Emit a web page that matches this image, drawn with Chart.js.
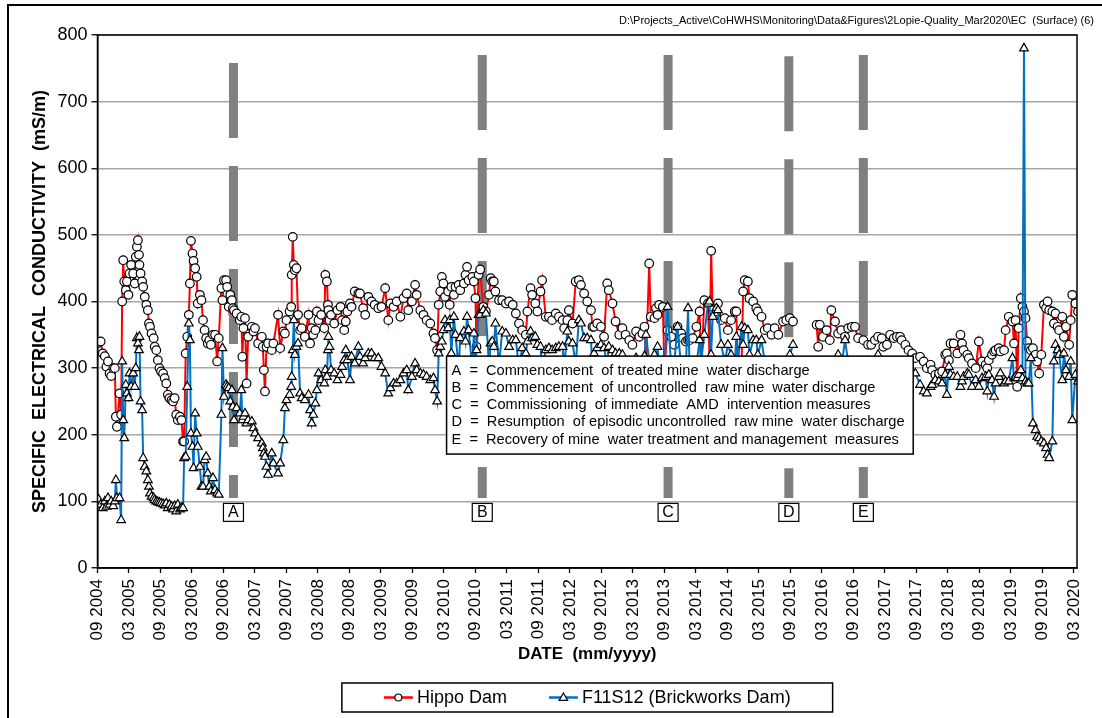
<!DOCTYPE html>
<html>
<head>
<meta charset="utf-8">
<title>EC (Surface)</title>
<script src="https://cdn.jsdelivr.net/npm/chart.js@4.4.1/dist/chart.umd.min.js"></script>
<style>
  html, body { margin: 0; padding: 0; background: #fff; }
  #wrap { position: relative; width: 1102px; height: 718px; }
</style>
</head>
<body>
<div id="wrap"><canvas id="ec" width="1102" height="718"></canvas></div>
<script>
// months since Sep 2004 for every sample
const sampleMonth = [
  0.2, 0.6, 1.0, 1.4, 1.7, 2.0, 2.3, 2.6, 3.0, 3.3,
  3.5, 3.7, 4.2, 4.5, 4.7, 4.9, 5.1, 5.4, 5.6, 5.9,
  6.1, 6.4, 6.8, 7.1, 7.3, 7.5, 7.7, 7.9, 8.0, 8.2,
  8.5, 8.7, 9.0, 9.3, 9.6, 9.8, 10.0, 10.3, 10.7, 10.9,
  11.2, 11.5, 11.8, 12.1, 12.5, 12.8, 13.1, 13.4, 13.7, 14.1,
  14.4, 14.7, 15.0, 15.3, 15.7, 16.0, 16.3, 16.5, 16.8, 17.1,
  17.4, 17.6, 17.8, 18.1, 18.3, 18.6, 18.9, 19.1, 19.5, 19.8,
  20.1, 20.4, 20.7, 21.0, 21.3, 21.6, 22.0, 22.4, 22.8, 23.1,
  23.6, 23.8, 24.1, 24.5, 24.7, 25.0, 25.3, 25.6, 25.8, 26.0,
  26.5, 27.1, 27.4, 27.6, 27.8, 28.1, 28.4, 28.7, 29.4, 29.7,
  30.0, 30.6, 31.3, 31.5, 31.7, 31.9, 32.2, 32.5, 33.2, 33.5,
  34.4, 34.8, 35.4, 35.7, 36.0, 36.6, 36.9, 37.0, 37.2, 37.4,
  37.6, 37.9, 38.2, 38.6, 38.9, 39.5, 40.2, 40.5, 40.8, 41.1,
  41.5, 41.8, 42.1, 42.6, 43.2, 43.4, 43.7, 43.9, 44.0, 44.2,
  44.5, 45.1, 45.7, 46.3, 46.6, 47.0, 47.3, 47.6, 48.1, 48.4,
  49.0, 49.7, 50.0, 50.6, 51.0, 51.6, 52.2, 52.8, 53.5, 54.1,
  54.8, 55.4, 55.8, 56.4, 57.0, 57.7, 58.3, 58.9, 59.2, 59.9,
  60.5, 60.8, 61.5, 62.1, 62.7, 63.4, 64.0, 64.3, 64.7, 65.0,
  65.3, 65.6, 65.9, 66.2, 66.8, 67.1, 67.4, 67.9, 68.2, 68.8,
  69.1, 69.8, 70.1, 70.4, 70.7, 71.4, 71.7, 72.0, 72.2, 72.6,
  72.9, 73.5, 74.0, 74.6, 74.9, 75.2, 75.5, 75.8, 76.5, 77.1,
  77.8, 78.4, 79.1, 79.7, 80.3, 80.9, 81.6, 81.9, 82.5, 82.8,
  83.4, 83.8, 84.4, 84.7, 85.4, 86.0, 86.6, 87.3, 87.9, 88.6,
  88.9, 89.5, 89.8, 90.5, 91.1, 91.7, 92.1, 92.7, 93.3, 94.0,
  94.3, 94.6, 95.2, 95.9, 96.5, 97.1, 97.4, 98.1, 98.7, 99.4,
  100.0, 100.6, 101.3, 101.9, 102.6, 103.2, 103.8, 104.2, 104.5, 105.1,
  105.4, 106.1, 106.4, 106.7, 107.0, 107.7, 108.0, 108.6, 109.3, 109.9,
  110.5, 111.2, 111.5, 112.1, 112.5, 112.8, 113.4, 114.1, 114.7, 115.0,
  115.6, 116.3, 116.6, 116.9, 117.2, 117.9, 118.2, 118.8, 119.5, 120.1,
  120.7, 121.4, 121.7, 122.0, 122.7, 123.0, 123.3, 123.9, 124.2, 124.9,
  125.5, 125.8, 126.5, 127.1, 127.7, 128.4, 129.0, 129.7, 130.6, 131.2,
  131.9, 132.5, 134.5, 137.0, 137.3, 137.6, 138.2, 138.9, 139.5, 139.8,
  140.5, 141.1, 141.7, 142.4, 143.0, 143.7, 144.3, 144.9, 145.9, 146.8,
  147.4, 148.1, 148.7, 149.4, 149.7, 150.4, 151.0, 151.7, 152.3, 152.9,
  153.2, 153.9, 154.5, 155.2, 155.8, 156.7, 157.4, 158.0, 158.7, 159.0,
  159.6, 160.3, 160.9, 161.5, 161.8, 162.2, 162.5, 163.1, 163.8, 164.4,
  164.7, 165.0, 165.7, 166.0, 166.6, 167.3, 167.9, 168.5, 169.2, 169.5,
  169.8, 170.4, 170.8, 171.1, 171.7, 172.0, 172.7, 173.0, 173.6, 174.3,
  174.6, 174.9, 175.2, 175.5, 175.9, 176.2, 176.5, 176.8, 177.1, 177.4,
  177.8, 178.2, 178.7, 179.0, 179.4, 179.8, 180.3, 180.7, 181.0, 181.3,
  181.9, 182.2, 182.5, 182.9, 183.2, 183.8, 184.1, 184.5, 185.1, 185.4,
  185.7, 186.3, 186.8
];

// Hippo Dam EC (mS/m)
const hippoEC = [
  338, 340, 322, 318, 302, 310, 292, 288, 300, 300,
  227, 212, 262, 230, 400, 462, 430, 417, 430, 410,
  442, 455, 442, 427, 467, 482, 492, 470, 455, 442,
  430, 422, 407, 395, 387, 367, 362, 352, 345, 332,
  327, 312, 300, 295, 292, 285, 277, 260, 255, 252,
  250, 255, 230, 222, 227, 222, 190, 190, 322, 347,
  380, 427, 491, 472, 461, 450, 437, 397, 410, 402,
  372, 357, 345, 337, 342, 335, 350, 350, 310, 345,
  420, 402, 432, 432, 422, 392, 410, 402, 390, 387,
  382, 372, 377, 317, 360, 375, 277, 347, 362, 355,
  360, 337, 347, 332, 297, 265, 332, 337, 327, 337,
  380, 330, 355, 352, 372, 385, 392, 440, 497, 455,
  447, 450, 380, 357, 360, 347, 380, 337, 360, 350,
  357, 385, 372, 380, 360, 440, 430, 395, 387, 372,
  380, 367, 387, 392, 372, 357, 370, 385, 397, 392,
  415, 412, 412, 390, 380, 407, 400, 395, 390, 392,
  420, 372, 397, 392, 400, 377, 405, 412, 387, 400,
  425, 410, 387, 380, 372, 367, 352, 345, 327, 395,
  415, 437, 427, 407, 415, 395, 422, 410, 422, 425,
  417, 427, 440, 452, 432, 437, 430, 405, 332, 440,
  448, 392, 385, 410, 435, 430, 430, 415, 402, 402,
  397, 400, 395, 382, 367, 357, 350, 385, 420, 410,
  397, 385, 415, 432, 377, 377, 372, 382, 377, 372,
  360, 372, 387, 367, 430, 432, 425, 412, 400, 387,
  362, 362, 367, 362, 347, 427, 417, 397, 370, 350,
  360, 350, 342, 335, 355, 347, 352, 362, 310, 457,
  377, 375, 390, 380, 395, 392, 300, 357, 347, 335,
  362, 352, 345, 340, 342, 342, 345, 362, 385, 300,
  402, 397, 310, 476, 387, 385, 397, 372, 375, 357,
  372, 385, 385, 300, 305, 415, 432, 430, 405, 400,
  390, 385, 377, 357, 360, 350, 360, 350, 370, 372,
  375, 370, null, 365, 332, 365, 347, 357, 342, 387,
  370, 352, 357, 347, 360, 362, 362, 345, 342, 335,
  335, 342, 347, 345, 332, 335, 350, 345, 347, 347,
  342, 335, 327, 322, 315, 317, 310, 300, 305, 297,
  290, 292, 295, 320, 322, 312, 337, 337, 322, 350,
  337, 327, 320, 315, 307, 300, 340, 310, 305, 300,
  312, 320, 325, 327, 330, 325, 327, 357, 377, 370,
  337, 372, 272, 360, 405, 392, 385, 375, 340, 330,
  327, 330, 320, 310, 292, 320, 395, 390, 400, 387,
  385, 367, 382, 362, 357, 377, 347, 362, 335, 372,
  410, 397, 385
];

// F11S12 (Brickworks Dam) EC (mS/m)
const brickEC = [
  103, 95, 90, 100, 92, 105, 95, 100, 93, 100,
  132, 105, 105, 72, 310, 222, 195, 275, 262, 255,
  292, 272, 292, 272, 300, 345, 337, 327, 347, 250,
  237, 165, 152, 145, 132, 122, 112, 107, 105, 102,
  100, 99, 98, 97, 96, 94, 97, 90, 95, 92,
  88, 93, 85, 95, 88, 90, 90, 165, 167, 272,
  367, 342, 202, 182, 150, 232, 202, 182, 152, 122,
  122, 162, 167, 142, 122, 115, 135, 117, 112, 110,
  230, 330, 257, 275, 272, 270, 250, 267, 242, 222,
  240, 232, 267, 222, 227, 232, 217, 222, 220, 210,
  202, 195, 187, 180, 172, 167, 152, 140, 172, 157,
  142, 157, 192, 240, 252, 260, 272, 287, 327, 372,
  320, 332, 337, 262, 255, 252, 260, 237, 217, 230,
  247, 267, 292, 282, 277, 297, 287, 327, 347, 332,
  297, 292, 282, 290, 302, 312, 327, 312, 282, 317,
  307, 332, 317, 307, 315, 322, 322, 315, 315, 302,
  292, 262, 270, 277, 277, 282, 292, 297, 267, 287,
  307, 297, 292, 290, 287, 282, 285, 267, 250, 322,
  332, 340, 357, 372, 360, 372, 322, 377, 350, 300,
  345, 355, 340, 377, 357, 300, 352, 305, 327, 380,
  380, 387, 382, 300, 337, 340, 332, 367, 305, 355,
  352, 332, 342, 342, 300, 330, 322, 340, 355, 345,
  347, 335, 332, 300, 327, 330, 327, 330, 332, 332,
  300, 355, 340, 337, 305, 372, 367, 345, 345, 342,
  300, 322, 330, 335, 330, 305, 332, 327, 322, 322,
  320, 300, 310, 295, 315, 300, 305, 318, 350, 310,
  300, 320, 310, 332, 300, 310, 305, 392, 300, 310,
  362, 300, 310, 305, 390, 300, 310, 305, 342, 310,
  350, 397, 400, 320, 377, 390, 387, 335, 310, 335,
  320, 305, 347, 310, 362, 335, 360, 357, 320, 342,
  342, 320, 342, 310, 305, 300, 310, 305, 300, 310,
  320, 335, null, 305, 300, 310, 305, 310, 300, 305,
  310, 320, 300, 342, 310, 300, 305, 310, 300, 310,
  305, 310, 320, 287, 292, 285, 280, 290, 295, 292,
  290, 288, 290, 293, 292, 275, 265, 262, 272, 275,
  282, 280, 277, 290, 260, 302, 290, 287, 287, 272,
  280, 287, 292, 290, 272, 282, 272, 285, 287, 265,
  290, 282, 257, 277, 287, 292, 277, 280, 280, 315,
  285, 287, 285, 290, 297, 285, 780, 280, 277, 277,
  315, 217, 207, 197, 195, 190, 187, 180, 170, 165,
  190, 310, 335, 327, 320, 282, 322, 297, 287, 310,
  222, 290, 280
];

const xTickMonths = [0, 6, 12, 18, 24, 30, 36, 42, 48, 54, 60, 66, 72, 78, 84, 90,
  96, 102, 108, 114, 120, 126, 132, 138, 144, 150, 156, 162, 168, 174, 180, 186];
const xTickLabels = ['09 2004', '03 2005', '09 2005', '03 2006', '09 2006', '03 2007',
  '09 2007', '03 2008', '09 2008', '03 2009', '09 2009', '03 2010', '09 2010', '03 2011',
  '09 2011', '03 2012', '09 2012', '03 2013', '09 2013', '03 2014', '09 2014', '03 2015',
  '09 2015', '03 2016', '09 2016', '03 2017', '09 2017', '03 2018', '09 2018', '03 2019',
  '09 2019', '03 2020'];

// event markers
const eventLetters = ['A', 'B', 'C', 'D', 'E'];
const eventMonths = [25.9, 73.3, 108.7, 131.7, 145.9];
const eventTops = [758, 770, 770, 768, 770];
const eventNotes = [
  'A  =  Commencement  of treated mine  water discharge',
  'B  =  Commencement  of uncontrolled  raw mine  water discharge',
  'C  =  Commissioning  of immediate  AMD  intervention measures',
  'D  =  Resumption  of episodic uncontrolled  raw mine  water discharge',
  'E  =  Recovery of mine  water treatment and management  measures'
];

const FONT = "'Liberation Sans', Arial, Helvetica, sans-serif";
const filePath = 'D:\\Projects_Active\\CoHWHS\\Monitoring\\Data&Figures\\2Lopie-Quality_Mar2020\\EC  (Surface) (6)';

Chart.defaults.font.family = FONT;
Chart.defaults.color = '#000';

const eventSets = eventMonths.map((m, i) => ({
  label: 'event ' + eventLetters[i],
  data: [{ x: m, y: eventTops[i] }, { x: m, y: 105 }],
  borderColor: '#808080',
  borderWidth: 9,
  borderDash: [75, 28],
  pointRadius: 0,
  order: 5,
  isEvent: true
}));

const drawMarker = (ctx, style, x, y, r) => {
  ctx.beginPath();
  if (style === 'triangle') {
    ctx.moveTo(x, y - r);
    ctx.lineTo(x + r * 0.95, y + r * 0.65);
    ctx.lineTo(x - r * 0.95, y + r * 0.65);
    ctx.closePath();
  } else {
    ctx.arc(x, y, r, 0, Math.PI * 2);
  }
  ctx.fillStyle = '#fff';
  ctx.fill();
  ctx.lineWidth = 1.2;
  ctx.strokeStyle = '#000';
  ctx.stroke();
};

const decor = {
  id: 'decor',
  afterDatasetsDraw(chart) {
    const { ctx, chartArea: a, scales: { x, y } } = chart;
    ctx.save();
    // plot frame
    ctx.strokeStyle = '#000';
    ctx.lineWidth = 1.5;
    ctx.strokeRect(a.left, a.top, a.right - a.left, a.bottom - a.top);

    // letter boxes under each event bar
    ctx.font = '16px ' + FONT;
    ctx.textAlign = 'center';
    ctx.textBaseline = 'middle';
    eventMonths.forEach((m, i) => {
      const cx = x.getPixelForValue(m);
      const top = y.getPixelForValue(100) + 2;
      ctx.fillStyle = '#fff';
      ctx.fillRect(cx - 10, top, 20, 18);
      ctx.lineWidth = 1.2;
      ctx.strokeRect(cx - 10, top, 20, 18);
      ctx.fillStyle = '#000';
      ctx.fillText(eventLetters[i], cx, top + 9.5);
    });

    // notes box
    const bl = x.getPixelForValue(66.5), br = x.getPixelForValue(155.4);
    const bt = y.getPixelForValue(318), bb = y.getPixelForValue(171);
    ctx.fillStyle = '#fff';
    ctx.fillRect(bl, bt, br - bl, bb - bt);
    ctx.lineWidth = 1.5;
    ctx.strokeRect(bl, bt, br - bl, bb - bt);
    ctx.fillStyle = '#000';
    ctx.font = '14.6px ' + FONT;
    ctx.textAlign = 'left';
    eventNotes.forEach((t, i) => ctx.fillText(t, bl + 5, bt + 15 + i * 17.1));
    ctx.restore();
  },
  afterDraw(chart) {
    const { ctx, chartArea: a } = chart;
    ctx.save();
    // outer frame
    ctx.strokeStyle = '#000';
    ctx.lineWidth = 2;
    ctx.beginPath();
    ctx.moveTo(8, chart.height);
    ctx.lineTo(8, 5);
    ctx.lineTo(chart.width, 5);
    ctx.stroke();

    // file path
    ctx.fillStyle = '#000';
    ctx.font = '11px ' + FONT;
    ctx.textAlign = 'right';
    ctx.textBaseline = 'middle';
    ctx.fillText(filePath, chart.width - 8, 21);

    // legend
    const items = chart.data.datasets.filter(d => !d.isEvent);
    ctx.font = '18px ' + FONT;
    const lineW = 29, gap = 4, between = 42, pad = 42;
    let total = 0;
    items.forEach(d => { d._lw = lineW + gap + ctx.measureText(d.label).width; total += d._lw; });
    total += between * (items.length - 1);
    const boxW = total + pad * 2;
    const cx = (a.left + a.right) / 2;
    const top = a.bottom + 115, h = 29;
    ctx.lineWidth = 1.5;
    ctx.strokeRect(cx - boxW / 2, top, boxW, h);
    let px = cx - boxW / 2 + pad;
    const cy = top + h / 2;
    items.forEach(d => {
      ctx.strokeStyle = d.borderColor;
      ctx.lineWidth = 2.5;
      ctx.beginPath();
      ctx.moveTo(px, cy);
      ctx.lineTo(px + lineW, cy);
      ctx.stroke();
      drawMarker(ctx, d.pointStyle, px + lineW / 2, cy, d.pointStyle === 'triangle' ? 4.5 : 3.5);
      ctx.fillStyle = '#000';
      ctx.textAlign = 'left';
      ctx.fillText(d.label, px + lineW + gap, cy + 1);
      px += d._lw + between;
    });
    ctx.restore();
  }
};

new Chart(document.getElementById('ec'), {
  type: 'line',
  data: {
    datasets: [
      {
        label: 'Hippo Dam',
        data: sampleMonth.map((m, i) => ({ x: m, y: hippoEC[i] })),
        borderColor: '#ff0000',
        borderWidth: 2,
        pointStyle: 'circle',
        pointRadius: 4.3,
        pointBorderWidth: 1.2,
        pointBorderColor: '#000',
        pointBackgroundColor: '#fff',
        spanGaps: false,
        order: 2
      },
      {
        label: 'F11S12 (Brickworks Dam)',
        data: sampleMonth.map((m, i) => ({ x: m, y: brickEC[i] })),
        borderColor: '#0070c0',
        borderWidth: 2,
        pointStyle: 'triangle',
        pointRadius: 5,
        pointBorderWidth: 1.2,
        pointBorderColor: '#000',
        pointBackgroundColor: '#fff',
        spanGaps: false,
        order: 1
      },
      ...eventSets
    ]
  },
  options: {
    responsive: false,
    animation: false,
    events: [],
    layout: { padding: { top: 35, right: 25, bottom: 50, left: 0 } },
    plugins: {
      legend: { display: false },
      tooltip: { enabled: false }
    },
    scales: {
      x: {
        type: 'linear',
        min: 0,
        max: 186.6,
        afterBuildTicks: s => { s.ticks = xTickMonths.map(v => ({ value: v })); },
        afterFit: s => { s.height = 100; },
        ticks: {
          autoSkip: false,
          minRotation: 90,
          maxRotation: 90,
          padding: 6,
          font: { size: 17 },
          callback: (v, i) => xTickLabels[i]
        },
        grid: { drawOnChartArea: false, tickLength: 5, tickColor: '#000', tickWidth: 1.3 },
        border: { color: '#000', width: 1.5 },
        title: {
          display: true,
          text: 'DATE  (mm/yyyy)',
          font: { size: 17, weight: 'bold' },
          padding: { top: 0, bottom: 3 }
        }
      },
      y: {
        min: 0,
        max: 800,
        afterFit: s => { s.width = 97.5; },
        ticks: { stepSize: 100, padding: 4, font: { size: 18 } },
        grid: { color: '#a6a6a6', lineWidth: 1.5, tickLength: 6, tickColor: '#000', tickWidth: 1.3 },
        border: { color: '#000', width: 1.5 },
        title: {
          display: true,
          text: 'SPECIFIC  ELECTRICAL  CONDUCTIVITY  (mS/m)',
          font: { size: 18, weight: 'bold' },
          padding: { top: 29, bottom: 0 }
        }
      }
    }
  },
  plugins: [decor]
});
</script>
</body>
</html>
